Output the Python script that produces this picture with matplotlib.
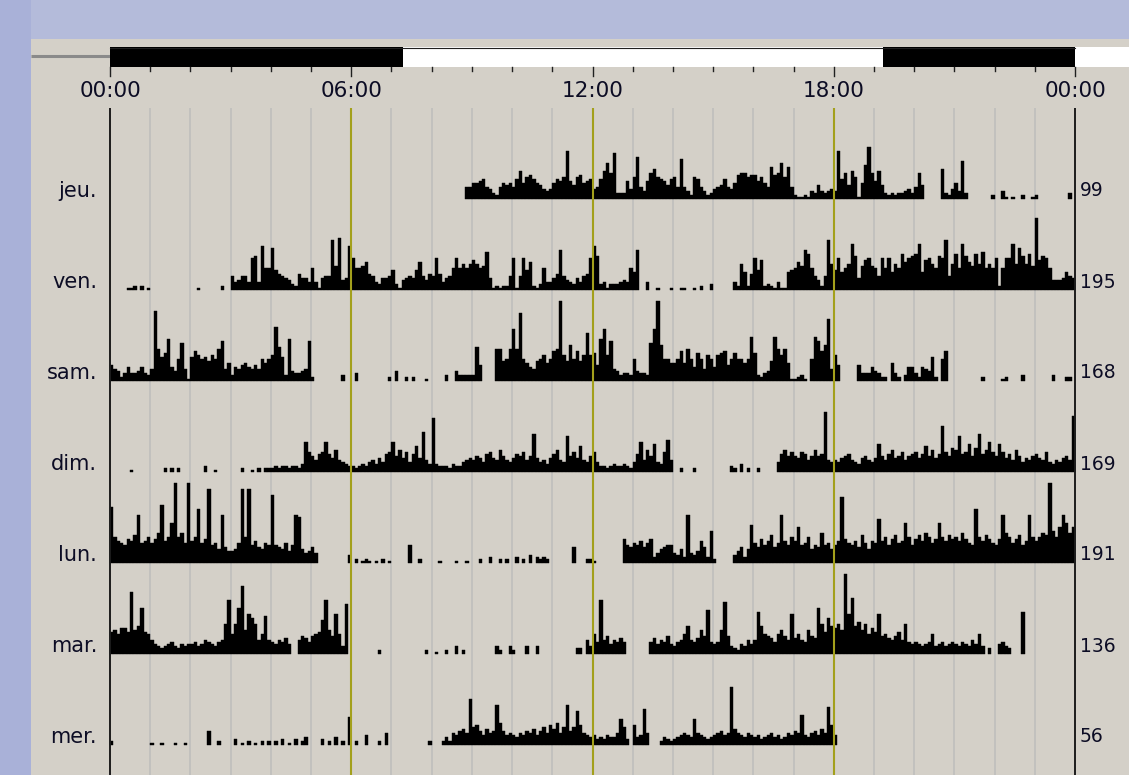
import matplotlib
matplotlib.use("Agg")
import matplotlib.pyplot as plt
from matplotlib.patches import Rectangle
import numpy as np

# ---------------------------------------------------------------------------
# Activity per 5-minute slot, one string per day, 24 hourly groups of 12 slots.
# Each character is a height level (base-62 digit), one level = 2 px of bar.
# ---------------------------------------------------------------------------
DAYS = ["jeu.", "ven.", "sam.", "dim.", "lun.", "mar.", "mer."]
TOTALS = [99, 195, 168, 169, 191, 136, 56]
HOUR_LABELS = ["00:00", "06:00", "12:00", "18:00", "00:00"]
SUNRISE_H = 7 + 17 / 60
SUNSET_H = 19 + 14 / 60

JEU = ("000000000000 000000000000 000000000000 000000000000 000000000000 000000000000 "
       "000000000000 000000000000 000000000066 889a65326878 6ae8bca87545 8a9bo97bc89a "
       "56aeidn33395 bl649dfba97a b6k642ba6423 567a658cddbc c9b86gcdibg6 211214374345 "
       "4oad7eb18hqd 9e7323233453 6d700000f325 84j300000002 004101002001 200000000030")
VEN = ("000001120201 000000000000 001000000200 745774gh4mbb la8765328664 b41677pcq56m "
       "gbbce8743667 a315676ae758 7g8467bgbdbd fdbcj6121227 g17gae213b44 68k75436478g "
       "mh341333454b 9k0040010001 001100102003 00000042d928 gaf23214119a beckib7527pd "
       "ag9bdnh6cfgc b7gbg9dbiegh in9fgdbhgp7d ibnhecidjbdb g2bggndlhdic Afhgb5556976")
SAM = ("865247445743 6zgcel75bj61 cfdbcadbgk69 376897686b9b drhc3l54456k 200000000300 "
       "040000000002 050020200010 000030053333 3h80000ggabg qgyb976abd9b fgEdaibfadod "
       "e8lqdk653443 b5443jqEibb9 9bf9gb7eb6db 7def8bebb9bm e3245amgdg91 12310bmkfiv6 "
       "d80000084447 542209420377 42765c20bf00 000000002000 001200003000 000003000220")
DIM = ("000000100000 000020202000 000030010000 000200102022 2323323324fa 869af97b6543 "
       "32343564759a f8b7a59d7k64 r43332433567 68759a76b865 798a68j75647 9b65i8a7d658 "
       "a53323433432 59f6b8e54ag6 002000200000 000003204020 020000059b8a 87a968b89u65 "
       "657896547865 7e869b78a689 a79d8b79na8c bi9ae8cj9bfa 8ea796b85768 976a5465786s")
LUN = ("sdba9cbeoabd acftbdkEdfaE bdracB9a7o86 67aBdB9b87a9 y987a69on756 850000000004 "
       "020121010201 000009002000 001000010010 002003002020 030204032320 000000800022 "
       "100000000c98 a9b8ac357899 5473o546b83g 20000046837j a8c9be8aob9d bi9ad798f9a7 "
       "9bxca9b8ea7b ambd9ceabkd9 cebfdackdbec dbfca9rdbeca 9cofdace9bod bdfeEgdiokfi")
MAR = ("bcaddbvcenba 754345643545 5645765467fr afnyckif7aj7 657685007986 9abhrc9ka4p0 "
       "000000002000 000000000020 010020040200 000000042004 200040040000 000000033074 "
       "a6r795768600 000006857695 467ae768c9m6 56cq94325475 7lea986ac97k 8a76c98nfbie "
       "dfcEksegcfad bk9a879b7f65 65456a456456 5465475a4030 05643000l000 000000000000")
MER = ("200000000000 100100010010 000007002000 030102010202 020301030240 00030204020e "
       "020050002060 000000000002 00024265786n 9a75867kb756 54657685796a 8b69k79ha654 "
       "53435446d930 a45i60002432 345654d65434 56756t865465 453456453465 76f5467586ja "
       "500000000000 000000000000 000000000000 000000000000 000000000000 000000000000")

ROWS = [JEU, VEN, SAM, DIM, LUN, MAR, MER]

DIGITS = "0123456789abcdefghijklmnopqrstuvwxyzABCDEFGHIJKLMNOPQRSTUVWXYZ"
SLOT_H = 5 / 60
LEVEL_PX = 2.0


def decode(row):
    groups = row.split()
    assert len(groups) == 24 and all(len(g) == 12 for g in groups), \
        [i for i, g in enumerate(groups) if len(g) != 12]
    return np.array([DIGITS.index(c) for g in groups for c in g], dtype=float)


# ---------------------------------------------------------------------------
# Layout (pixel based canvas, x measured in hours)
# ---------------------------------------------------------------------------
W, H = 1129, 775
X0, X24 = 110, 1075
PXH = (X24 - X0) / 24.0
TEXT = "#0c0c24"


def hx(px):
    return (px - X0) / PXH


fig = plt.figure(figsize=(W / 100, H / 100), dpi=100)
fig.patch.set_facecolor("#b4bbda")
ax = fig.add_axes([0, 0, 1, 1])
ax.set_xlim(hx(0), hx(W))
ax.set_ylim(H, 0)
ax.axis("off")

# left blue strip and grey panel
ax.add_patch(Rectangle((hx(0), 0), hx(31) - hx(0), H, color="#a9b1d8", lw=0, zorder=0))
ax.add_patch(Rectangle((hx(31), 39), hx(W) - hx(31), H - 39, color="#d4d0c8", lw=0, zorder=0))

# day / night band
BAND_TOP, BAND_BOT = 47, 66.5
ax.plot([hx(31), 0], [55.5, 55.5], color="#8a8a8a", lw=2.2, solid_capstyle="butt", zorder=2)
segments = [(0, SUNRISE_H, "black"), (SUNRISE_H, SUNSET_H, "white"),
            (SUNSET_H, 24, "black"), (24, hx(W), "white")]
for a, b, c in segments:
    ax.add_patch(Rectangle((a, BAND_TOP), b - a, BAND_BOT - BAND_TOP, color=c, lw=0, zorder=2))
ax.plot([0, 24], [BAND_TOP + 0.5, BAND_TOP + 0.5], color="#202020", lw=0.8, zorder=3)

# hour ticks under the band
for h in range(25):
    major = h % 6 == 0
    ax.plot([h, h], [BAND_BOT, 76 if major else 71], color="#202020", lw=1.0, zorder=3)
for i, lab in enumerate(HOUR_LABELS):
    ax.text(i * 6, 91, lab, ha="center", va="center", fontsize=15.5,
            color=TEXT, family="DejaVu Sans", zorder=4)

# hour grid
GRID_TOP = 108
minor = [h for h in range(1, 24) if h % 6]
ax.vlines(minor, GRID_TOP, H, colors="#c2c1be", lw=1.4, zorder=1)

# activity bars
edges = np.arange(288) * SLOT_H
for i, (day, row, tot) in enumerate(zip(DAYS, ROWS, TOTALS)):
    base = 199 + 91 * i
    vals = decode(row)
    mask = vals > 0
    ax.bar(edges[mask], -vals[mask] * LEVEL_PX, width=SLOT_H, bottom=base,
           align="edge", color="black", edgecolor="black", lw=0.3, zorder=2)
    ax.text(hx(97), base - 8, day, ha="right", va="center", fontsize=15,
            color=TEXT, family="DejaVu Sans", zorder=4)
    ax.text(hx(1080), base - 8, str(tot), ha="left", va="center", fontsize=13.5,
            color=TEXT, family="DejaVu Sans", zorder=4)

ax.vlines([6, 12, 18], GRID_TOP, H, colors="#a3a01c", lw=1.5, zorder=3)
ax.vlines([0, 24], GRID_TOP, H, colors="#1c1c1c", lw=1.4, zorder=3)

fig.savefig("out.png", dpi=100, facecolor=fig.get_facecolor())
